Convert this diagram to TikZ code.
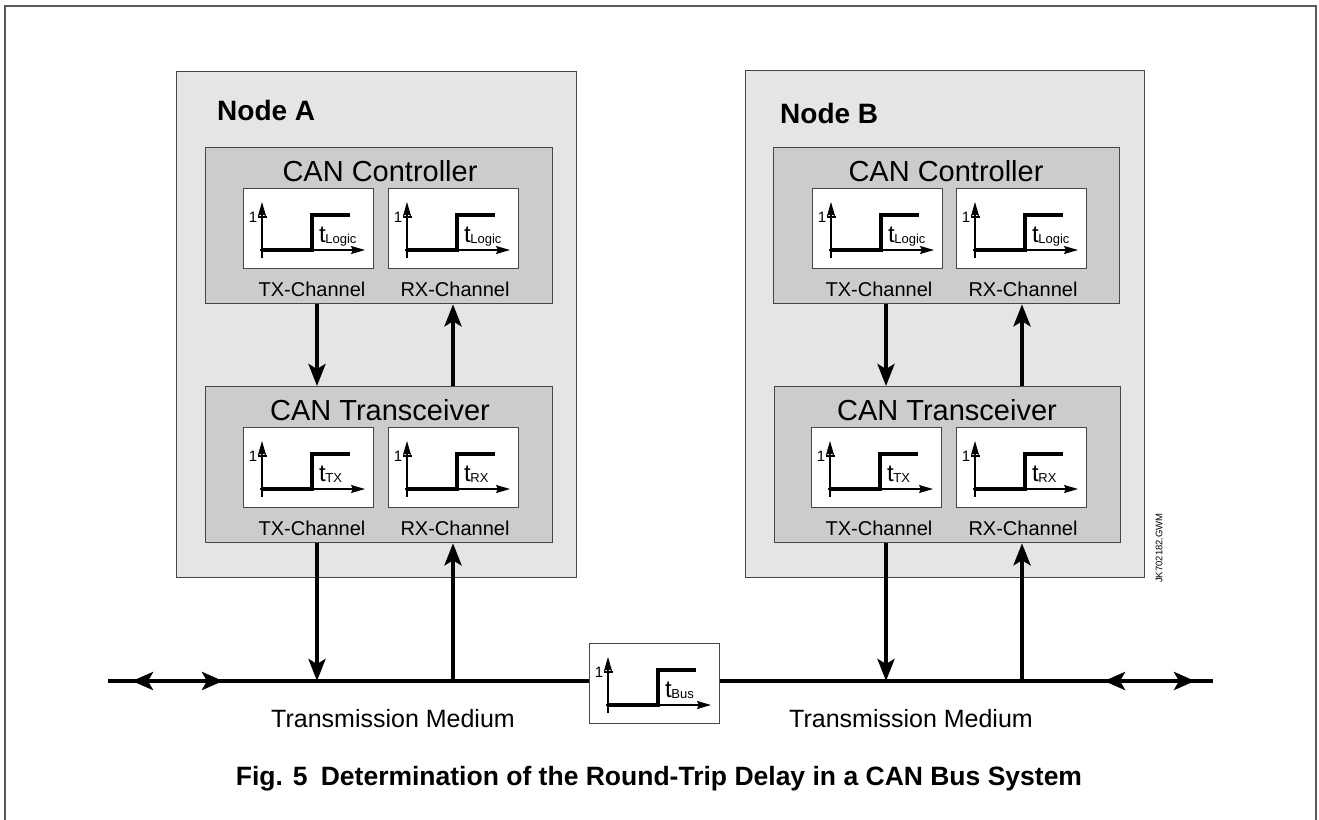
\documentclass[tikz,border=0pt]{standalone}
\usepackage{fontspec}
\setmainfont{Liberation Sans}
\usetikzlibrary{arrows.meta,decorations.markings}

\definecolor{framegray}{RGB}{90,90,90}
\definecolor{nodefill}{RGB}{229,229,229}
\definecolor{unitfill}{RGB}{204,204,204}
\definecolor{edgegray}{RGB}{70,70,70}

\tikzset{
  container/.style={draw=edgegray, line width=1.3pt, fill=nodefill, anchor=north west, inner sep=0pt},
  unitbox/.style={draw=edgegray, line width=1.3pt, fill=unitfill, anchor=north west, inner sep=0pt},
  plotbox/.style={draw=edgegray, line width=1pt, fill=white, anchor=north west, inner sep=0pt,
                  minimum width=130pt, minimum height=80pt},
  nodetitle/.style={font=\fontsize{28}{30}\selectfont\bfseries, anchor=base west, inner sep=0pt},
  unittitle/.style={font=\fontsize{29}{31}\selectfont, anchor=base, inner sep=0pt},
  chanlabel/.style={font=\fontsize{20}{22}\selectfont, anchor=base, inner sep=0pt},
  medlabel/.style={font=\fontsize{25}{27}\selectfont, anchor=base, inner sep=0pt},
  axisline/.style={line width=1.2pt},
  smallhead/.style={-{Stealth[length=14pt,width=8pt,inset=2pt]}},
  sigline/.style={line width=3.8pt, line join=miter},
  bigarrow/.style={line width=4pt, -{Stealth[length=22pt,width=17pt,inset=5pt]}},
  busline/.style={line width=4pt},
  bushead/.tip={Stealth[length=21pt,width=18pt,inset=5pt]},
}

% one signal panel: name, top-left corner, subscript of the delay
\newcommand\chanplot[3]{%
  \node[plotbox] (#1) at (#2) {};
  \begin{scope}[shift={(#1.north west)}]
    \draw[axisline, smallhead] (19,70) -- (19,14);
    \draw[axisline, smallhead] (17,62) -- (122,62);
    \draw[axisline] (15,29) -- (24,29);
    \draw[sigline] (19,62) -- (69,62) -- (69,27) -- (107,27);
    \node[font=\fontsize{15}{15}\selectfont, inner sep=0pt] (#1-one) at (10,29.5) {1};
    \node[font=\fontsize{24}{24}\selectfont, anchor=base west, inner sep=0pt] (#1-t) at (76,54)
      {t\kern-0.5pt\raisebox{-1pt}{\fontsize{13}{13}\selectfont #3}};
  \end{scope}}

\begin{document}
\begin{tikzpicture}[x=1pt,y=-1pt]
\useasboundingbox (0,0) rectangle (1319,819);

% page frame, open at the bottom
\draw[framegray, line width=1.5pt] (5,825) -- (5,6) -- (1316,6) -- (1316,825);

% ---------- Node A ----------
\node[container, minimum width=400pt, minimum height=506pt] (nodeA) at (176,71) {};
\node[nodetitle] (nodeAtitle) at (217,120) {Node A};

\node[unitbox, minimum width=347pt, minimum height=156pt] (ctrlA) at (205,147) {};
\node[unittitle] (ctrlAtitle) at (380,181) {CAN Controller};
\chanplot{ctrlAtx}{243,188}{Logic}
\chanplot{ctrlArx}{388,188}{Logic}
\node[chanlabel] (ctrlAtxl) at (312,296) {TX-Channel};
\node[chanlabel] (ctrlArxl) at (455,296) {RX-Channel};

\node[unitbox, minimum width=347pt, minimum height=156pt] (trcvA) at (205,386) {};
\node[unittitle] (trcvAtitle) at (380,420) {CAN Transceiver};
\chanplot{trcvAtx}{243,427}{TX}
\chanplot{trcvArx}{388,427}{RX}
\node[chanlabel] (trcvAtxl) at (312,535) {TX-Channel};
\node[chanlabel] (trcvArxl) at (455,535) {RX-Channel};

% ---------- Node B ----------
\node[container, minimum width=399pt, minimum height=507pt] (nodeB) at (745,70) {};
\node[nodetitle] (nodeBtitle) at (780,123) {Node B};

\node[unitbox, minimum width=346pt, minimum height=156pt] (ctrlB) at (773,147) {};
\node[unittitle] (ctrlBtitle) at (946,181) {CAN Controller};
\chanplot{ctrlBtx}{812,188}{Logic}
\chanplot{ctrlBrx}{956,188}{Logic}
\node[chanlabel] (ctrlBtxl) at (879,296) {TX-Channel};
\node[chanlabel] (ctrlBrxl) at (1023,296) {RX-Channel};

\node[unitbox, minimum width=346pt, minimum height=156pt] (trcvB) at (774,386) {};
\node[unittitle] (trcvBtitle) at (947,420) {CAN Transceiver};
\chanplot{trcvBtx}{811,427}{TX}
\chanplot{trcvBrx}{956,427}{RX}
\node[chanlabel] (trcvBtxl) at (879,535) {TX-Channel};
\node[chanlabel] (trcvBrxl) at (1023,535) {RX-Channel};

% ---------- bus ----------
\chanplot{tbus}{589,643}{Bus}
\coordinate (busL) at (108,681);
\coordinate (busR) at (1213,681);
\draw[busline, postaction={decorate, decoration={markings,
   mark=at position 24pt with {\arrowreversed{bushead}},
   mark=at position 115pt with {\arrow{bushead}}}}]
   (busL) -- (tbus.west |- busL);
\draw[busline, postaction={decorate, decoration={markings,
   mark=at position 384pt with {\arrowreversed{bushead}},
   mark=at position 475pt with {\arrow{bushead}}}}]
   (tbus.east |- busR) -- (busR);
\node[medlabel] (medA) at (393,727) {Transmission Medium};
\node[medlabel] (medB) at (911,727) {Transmission Medium};

% ---------- vertical signal paths ----------
\coordinate (xAtx) at (317,0);
\coordinate (xArx) at (453,0);
\coordinate (xBtx) at (886,0);
\coordinate (xBrx) at (1022,0);

\draw[bigarrow] (ctrlA.south -| xAtx) -- (trcvA.north -| xAtx);
\draw[bigarrow] (trcvA.north -| xArx) -- (ctrlA.south -| xArx);
\draw[bigarrow] (trcvA.south -| xAtx) -- (busL -| xAtx);
\draw[bigarrow] (busL -| xArx) -- (trcvA.south -| xArx);

\draw[bigarrow] (ctrlB.south -| xBtx) -- (trcvB.north -| xBtx);
\draw[bigarrow] (trcvB.north -| xBrx) -- (ctrlB.south -| xBrx);
\draw[bigarrow] (trcvB.south -| xBtx) -- (busR -| xBtx);
\draw[bigarrow] (busR -| xBrx) -- (trcvB.south -| xBrx);

% drawing number
\node[font=\fontsize{9.5}{9.5}\selectfont, rotate=90, inner sep=0pt] (docid) at (1159,548) {JK702182.GWM};

% caption
\node[font=\fontsize{26.5}{28}\selectfont\bfseries, inner sep=0pt, anchor=base] (caption) at (659,785)
  {Fig. 5\enspace Determination of the Round-Trip Delay in a CAN Bus System};
\end{tikzpicture}
\end{document}
